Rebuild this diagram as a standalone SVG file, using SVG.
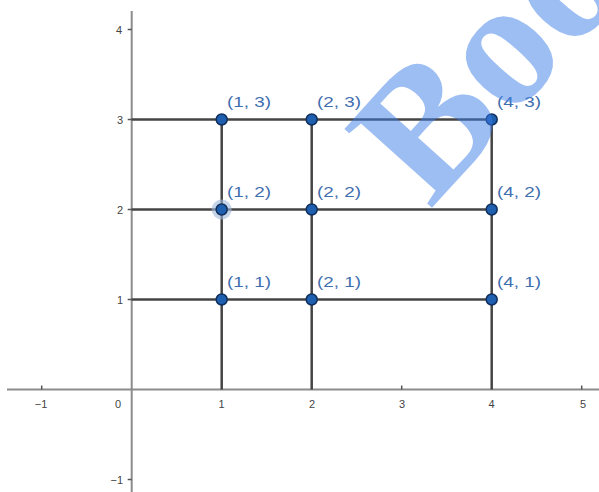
<svg xmlns="http://www.w3.org/2000/svg" width="599" height="492" viewBox="0 0 599 492">
<style>
.axis{stroke:#8c8c8c;stroke-width:2;fill:none}
.tick{stroke:#555;stroke-width:1.5}
.grid{stroke:#444;stroke-width:2.5;fill:none}
.tl{font-family:"Liberation Sans",Arial,sans-serif;font-size:11px;fill:#444}
.pt{fill:#1f5fb0;stroke:#102f5c;stroke-width:1.5}
.lb{font-family:"Liberation Sans",Arial,sans-serif;font-size:14px;fill:#3f6eae}
.wm{font-family:"Liberation Serif","Times New Roman",serif;font-weight:bold;font-size:180px;fill:#3b7de8;fill-opacity:0.5}
</style>
<rect width="599" height="492" fill="#fff"/>
<g id="axes">
<line class="axis" x1="7" y1="389.5" x2="599" y2="389.5"/>
<line class="axis" x1="131.7" y1="11" x2="131.7" y2="492"/>
<g class="tick">
<line x1="41.7" y1="385.5" x2="41.7" y2="389.5"/>
<line x1="401.7" y1="385.5" x2="401.7" y2="389.5"/>
<line x1="581.7" y1="385.5" x2="581.7" y2="389.5"/>
<line x1="127.7" y1="29.5" x2="131.7" y2="29.5"/>
<line x1="127.7" y1="479.5" x2="131.7" y2="479.5"/>
<line x1="127.7" y1="119.5" x2="131.7" y2="119.5"/>
<line x1="127.7" y1="209.5" x2="131.7" y2="209.5"/>
<line x1="127.7" y1="299.5" x2="131.7" y2="299.5"/>
</g>
<g class="tl" text-anchor="middle">
<text x="41" y="408">−1</text>
<text x="118" y="408">0</text>
<text x="221.5" y="408">1</text>
<text x="312" y="408">2</text>
<text x="402" y="408">3</text>
<text x="491.5" y="408">4</text>
<text x="583" y="408">5</text>
</g>
<g class="tl" text-anchor="end">
<text x="122" y="33.5">4</text>
<text x="123" y="123.5">3</text>
<text x="123" y="213.5">2</text>
<text x="123" y="303.5">1</text>
<text x="123" y="483.5">−1</text>
</g>
</g>
<g id="connectors">
<line class="grid" x1="131.7" y1="119.5" x2="491.7" y2="119.5"/>
<line class="grid" x1="131.7" y1="209.5" x2="491.7" y2="209.5"/>
<line class="grid" x1="131.7" y1="299.5" x2="491.7" y2="299.5"/>
<line class="grid" x1="221.7" y1="119.5" x2="221.7" y2="389.5"/>
<line class="grid" x1="311.7" y1="119.5" x2="311.7" y2="389.5"/>
<line class="grid" x1="491.7" y1="119.5" x2="491.7" y2="389.5"/>
</g>
<g id="p13"><circle class="pt" cx="221.7" cy="119.5" r="5.5"/><text class="lb" x="227" y="107" textLength="44" lengthAdjust="spacingAndGlyphs">(1, 3)</text></g>
<g id="p23"><circle class="pt" cx="311.7" cy="119.5" r="5.5"/><text class="lb" x="317" y="107" textLength="44" lengthAdjust="spacingAndGlyphs">(2, 3)</text></g>
<g id="p43"><circle class="pt" cx="491.7" cy="119.5" r="5.5"/><text class="lb" x="497" y="107" textLength="44" lengthAdjust="spacingAndGlyphs">(4, 3)</text></g>
<g id="p12"><circle cx="221.7" cy="209.5" r="10" fill="#9fb8d8" fill-opacity="0.6"/><circle class="pt" cx="221.7" cy="209.5" r="5.5"/><text class="lb" x="227" y="197" textLength="44" lengthAdjust="spacingAndGlyphs">(1, 2)</text></g>
<g id="p22"><circle class="pt" cx="311.7" cy="209.5" r="5.5"/><text class="lb" x="317" y="197" textLength="44" lengthAdjust="spacingAndGlyphs">(2, 2)</text></g>
<g id="p42"><circle class="pt" cx="491.7" cy="209.5" r="5.5"/><text class="lb" x="497" y="197" textLength="44" lengthAdjust="spacingAndGlyphs">(4, 2)</text></g>
<g id="p11"><circle class="pt" cx="221.7" cy="299.5" r="5.5"/><text class="lb" x="227" y="287" textLength="44" lengthAdjust="spacingAndGlyphs">(1, 1)</text></g>
<g id="p21"><circle class="pt" cx="311.7" cy="299.5" r="5.5"/><text class="lb" x="317" y="287" textLength="44" lengthAdjust="spacingAndGlyphs">(2, 1)</text></g>
<g id="p41"><circle class="pt" cx="491.7" cy="299.5" r="5.5"/><text class="lb" x="497" y="287" textLength="44" lengthAdjust="spacingAndGlyphs">(4, 1)</text></g>
<g id="watermark"><text class="wm" transform="translate(430,210) rotate(-48)">Boo</text></g>
</svg>
